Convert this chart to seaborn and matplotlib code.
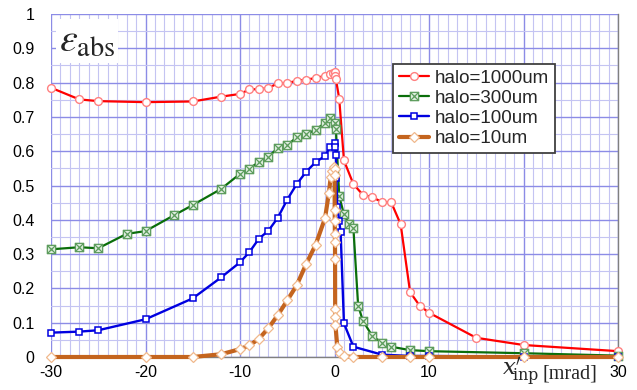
import numpy as np
import pandas as pd
import matplotlib
matplotlib.use("Agg")
import matplotlib.pyplot as plt
from matplotlib.path import Path
from matplotlib.ticker import MultipleLocator
import seaborn as sns

# ---- data ----
x_1000 = [-30, -27, -25, -20, -15, -12, -10, -9, -8, -7, -6, -5, -4, -3, -2, -1, -0.5, -0.2, 0, 0.05,
          0.15, 0.5, 1, 2, 3, 4, 5, 6, 7, 8, 9, 10, 15, 20, 30]
y_1000 = [0.785, 0.751, 0.746, 0.743, 0.745, 0.759, 0.767, 0.780, 0.781, 0.784, 0.798, 0.799, 0.805, 0.809,
          0.813, 0.820, 0.824, 0.828, 0.832, 0.820, 0.810, 0.753, 0.573, 0.504, 0.473, 0.466, 0.452, 0.451,
          0.387, 0.189, 0.150, 0.129, 0.056, 0.035, 0.017]

x_300 = [-30, -27, -25, -22, -20, -17, -15, -12, -10, -9, -8, -7, -6, -5, -4, -3, -2, -1, -0.5, 0,
         0.15, 0.5, 1, 1.5, 2, 2.5, 3, 4, 5, 6, 8, 10, 20, 30]
y_300 = [0.314, 0.320, 0.317, 0.359, 0.367, 0.413, 0.443, 0.490, 0.534, 0.549, 0.569, 0.584, 0.609, 0.617,
         0.641, 0.650, 0.662, 0.683, 0.697, 0.681, 0.665, 0.469, 0.416, 0.389, 0.376, 0.150, 0.106, 0.061,
         0.042, 0.030, 0.020, 0.017, 0.011, 0.004]

x_100 = [-30, -27, -25, -20, -15, -12, -10, -9, -8, -7, -6, -5, -4, -3, -2, -1, -0.5, 0, 0.05, 0.15,
         0.2, 0.3, 0.5, 0.65, 1, 2, 5, 8, 10, 20, 30]
y_100 = [0.071, 0.074, 0.078, 0.110, 0.171, 0.232, 0.276, 0.306, 0.345, 0.368, 0.406, 0.459, 0.504, 0.540,
         0.568, 0.586, 0.611, 0.623, 0.611, 0.590, 0.521, 0.438, 0.397, 0.363, 0.098, 0.030, 0.007, 0.003,
         0.003, 0.001, 0.0]

x_10 = [-30, -20, -15, -12, -10, -9, -8, -7, -6, -5, -4, -3, -2, -1, -0.6, -0.4, -0.25, -0.1, 0, 0.01,
        0.02, 0.03, 0.04, 0.05, 0.06, 0.07, 0.08, 0.1, 0.3, 0.6, 1, 2, 5, 8, 10, 20, 30]
y_10 = [0, 0, 0, 0.008, 0.023, 0.034, 0.053, 0.084, 0.122, 0.165, 0.209, 0.271, 0.327, 0.405, 0.477,
        0.525, 0.541, 0.553, 0.547, 0.531, 0.430, 0.397, 0.360, 0.336, 0.285, 0.139, 0.116, 0.093, 0.028,
        0.011, 0.002, 0, 0, 0, 0, 0, 0]

labels = ["halo=1000um", "halo=300um", "halo=100um", "halo=10um"]
x_ticks = [-30, -20, -10, 0, 10, 20, 30]
x_ticklabels = ["-30", "-20", "-10", "0", "10", "", "30"]
y_ticks = [0, 0.1, 0.2, 0.3, 0.4, 0.5, 0.6, 0.7, 0.8, 0.9, 1.0]
y_ticklabels = ["0", "0.1", "0.2", "0.3", "0.4", "0.5", "0.6", "0.7", "0.8", "0.9", "1"]

# ---- style ----
sns.set_style("white")
plt.rcParams["font.family"] = ["Liberation Sans", "DejaVu Sans"]
plt.rcParams["mathtext.fontset"] = "stix"

W, H = 637, 390
fig = plt.figure(figsize=(W / 100, H / 100), dpi=100)
ax = fig.add_axes([51 / W, 1 - 357 / H, 567 / W, 343 / H])

# square-with-X marker
sqx = Path([(-1, -1), (1, -1), (1, 1), (-1, 1), (-1, -1), (-1, -1), (1, 1), (-1, 1), (1, -1)],
           [Path.MOVETO, Path.LINETO, Path.LINETO, Path.LINETO, Path.CLOSEPOLY,
            Path.MOVETO, Path.LINETO, Path.MOVETO, Path.LINETO])

series = [
    (x_1000, y_1000, dict(color="#ff0000", lw=1.6, marker="o", ms=5.6, mfc="white", mec="#ff8080", mew=1.0)),
    (x_300, y_300, dict(color="#0a6e0a", lw=1.6, marker=sqx, ms=6.0, mfc="#dcebdc", mec="#5c9c5c", mew=0.9)),
    (x_100, y_100, dict(color="#0000e0", lw=1.7, marker="s", ms=4.8, mfc="white", mec="#0000e0", mew=1.1)),
    (x_10, y_10, dict(color="#c4641e", lw=3.0, marker="D", ms=5.6, mfc="white", mec="#f0b88c", mew=0.9)),
]

for (xs, ys, st), lab in zip(series, labels):
    df = pd.DataFrame({"x": xs, "y": ys})
    sns.lineplot(data=df, x="x", y="y", ax=ax, sort=False, estimator=None, label=lab,
                 color=st["color"], linewidth=st["lw"], marker=st["marker"], markersize=st["ms"],
                 markerfacecolor=st["mfc"], markeredgecolor=st["mec"], markeredgewidth=st["mew"],
                 clip_on=False, zorder=3)

ax.set_xlim(-30, 30)
ax.set_ylim(0, 1)
ax.set_xticks(x_ticks)
ax.set_xticklabels(x_ticklabels)
ax.set_yticks(y_ticks)
ax.set_yticklabels(y_ticklabels)
ax.xaxis.set_minor_locator(MultipleLocator(1))
ax.yaxis.set_minor_locator(MultipleLocator(0.05))
ax.grid(which="major", color="#8c8ce6", lw=1.0)
ax.grid(which="minor", color="#c4c4f2", lw=0.8)
ax.set_axisbelow(True)
ax.tick_params(which="both", length=0, labelsize=11.5, colors="black")
ax.tick_params(axis="x", pad=6)
ax.tick_params(axis="y", pad=12)
ax.set_xlabel("")
ax.set_ylabel("")
for s in ["left", "top"]:
    ax.spines[s].set_visible(False)
for s in ["right", "bottom"]:
    ax.spines[s].set_color("#808080")
    ax.spines[s].set_linewidth(1.0)

leg = ax.legend(loc="upper left", bbox_to_anchor=(393 / W, 1 - 64 / H), bbox_transform=fig.transFigure,
                fontsize=13.5, frameon=True, fancybox=False, framealpha=1, edgecolor="#404040",
                handlelength=1.6, handletextpad=0.35, labelspacing=0.16, borderpad=0.3, borderaxespad=0)
leg.get_frame().set_linewidth(1.3)

fig.text(59 / W, 1 - 41 / H, r"$\varepsilon_{\mathrm{abs}}$", fontsize=29, ha="left", va="center",
         bbox=dict(fc="white", ec="none", pad=2))
serif = ["Liberation Serif", "DejaVu Serif"]
fig.text(502 / W, 1 - 376 / H, r"$x^{\prime}_{\!\mathrm{inp}}$", fontsize=16.5, ha="left", va="baseline",
         math_fontfamily="dejavuserif")
fig.text(543 / W, 1 - 378 / H, "[mrad]", fontsize=14.5, family=serif, ha="left", va="baseline")

fig.savefig("out.png", dpi=100, facecolor="white")
